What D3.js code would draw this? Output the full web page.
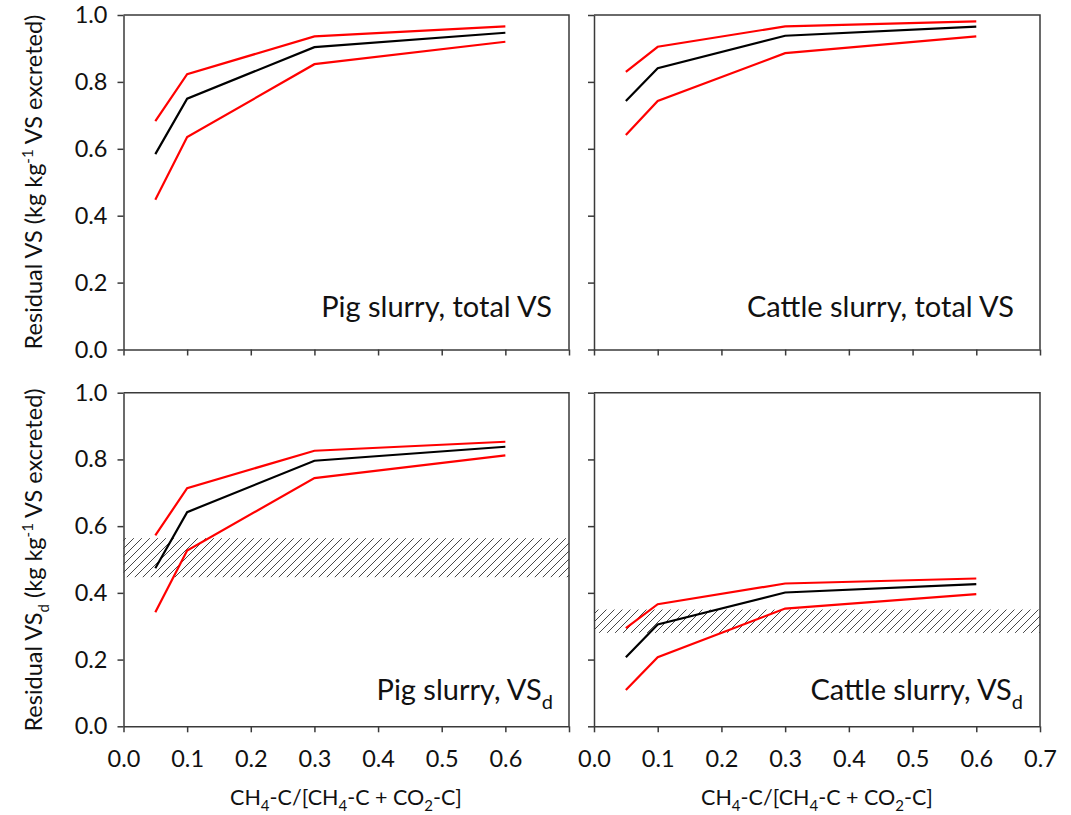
<!DOCTYPE html>
<html>
<head>
<meta charset="utf-8">
<script src="https://cdn.jsdelivr.net/npm/d3@7"></script>
<style>
  body { margin: 0; background: #fff; }
  text { font-family: Lato, "Open Sans", sans-serif; fill: #111; }
</style>
</head>
<body>
<div id="chart"></div>
<script>
const width = 1071;
const height = 815;

// x positions of the scenarios (CH4-C fraction)
const xVals = [0.05, 0.1, 0.3, 0.6];

// Pig slurry, total VS
const pigTotalMid = [0.584, 0.750, 0.904, 0.947];
const pigTotalHigh = [0.683, 0.823, 0.936, 0.966];
const pigTotalLow = [0.448, 0.635, 0.853, 0.920];

// Cattle slurry, total VS
const cattleTotalMid = [0.743, 0.841, 0.938, 0.965];
const cattleTotalHigh = [0.830, 0.905, 0.966, 0.981];
const cattleTotalLow = [0.641, 0.743, 0.886, 0.936];

// Pig slurry, VSd
const pigVsdMid = [0.474, 0.642, 0.796, 0.838];
const pigVsdHigh = [0.572, 0.714, 0.826, 0.853];
const pigVsdLow = [0.342, 0.527, 0.744, 0.812];

// Cattle slurry, VSd
const cattleVsdMid = [0.207, 0.305, 0.401, 0.426];
const cattleVsdHigh = [0.294, 0.366, 0.428, 0.443];
const cattleVsdLow = [0.109, 0.207, 0.353, 0.396];

// hatched bands (range of measured residual VSd)
const pigVsdBand = [0.447, 0.564];
const cattleVsdBand = [0.280, 0.350];

const xTicks = [0, 0.1, 0.2, 0.3, 0.4, 0.5, 0.6, 0.7];
const yTicks = [0, 0.2, 0.4, 0.6, 0.8, 1.0];

const svg = d3.select("#chart")
    .append("svg")
    .attr("width", width)
    .attr("height", height);

// hatch pattern for the bands
svg.append("defs").append("pattern")
    .attr("id", "hatch")
    .attr("patternUnits", "userSpaceOnUse")
    .attr("width", 8)
    .attr("height", 8)
    .append("path")
    .attr("d", "M0,8 L8,0 M-1,1 L1,-1 M7,9 L9,7")
    .attr("stroke", "#333")
    .attr("stroke-width", 0.9);

const leftX = [123.5, 569];
const rightX = [594, 1040];
const topY = [349.5, 15];
const botY = [726.3, 392.7];

const panels = [
    { x: leftX, y: topY, label: ["Pig slurry, total VS"], lx: 552, ly: 317,
      mid: pigTotalMid, high: pigTotalHigh, low: pigTotalLow, yLabels: true, xLabels: null },
    { x: rightX, y: topY, label: ["Cattle slurry, total VS"], lx: 1014, ly: 317,
      mid: cattleTotalMid, high: cattleTotalHigh, low: cattleTotalLow, yLabels: false, xLabels: null },
    { x: leftX, y: botY, label: ["Pig slurry, VS", "d"], lx: 553, ly: 700,
      mid: pigVsdMid, high: pigVsdHigh, low: pigVsdLow, band: pigVsdBand, yLabels: true,
      xLabels: xTicks.slice(0, 7) },
    { x: rightX, y: botY, label: ["Cattle slurry, VS", "d"], lx: 1023, ly: 700,
      mid: cattleVsdMid, high: cattleVsdHigh, low: cattleVsdLow, band: cattleVsdBand, yLabels: false,
      xLabels: xTicks }
];

panels.forEach(p => {
    const x = d3.scaleLinear().domain([0, 0.7]).range(p.x);
    const y = d3.scaleLinear().domain([0, 1]).range(p.y);
    const g = svg.append("g");

    // hatched band
    if (p.band) {
        g.append("rect")
            .attr("x", x(0))
            .attr("width", x(0.7) - x(0))
            .attr("y", y(p.band[1]))
            .attr("height", y(p.band[0]) - y(p.band[1]))
            .attr("fill", "url(#hatch)");
    }

    // frame (top + right)
    g.append("path")
        .attr("d", `M${x(0)},${y(1)} H${x(0.7)} V${y(0)}`)
        .attr("fill", "none")
        .attr("stroke", "#3a3a3a")
        .attr("stroke-width", 1.5);

    // axes
    const yAxis = g.append("g")
        .attr("transform", `translate(${x(0)},0)`)
        .call(d3.axisLeft(y).tickValues(yTicks).tickSize(6).tickSizeOuter(0)
            .tickFormat(p.yLabels ? d3.format(".1f") : ""));
    const xAxis = g.append("g")
        .attr("transform", `translate(0,${y(0)})`)
        .call(d3.axisBottom(x).tickValues(xTicks).tickSize(6).tickSizeOuter(0)
            .tickFormat(d => p.xLabels && p.xLabels.includes(d) ? d3.format(".1f")(d) : ""));

    [yAxis, xAxis].forEach(a => {
        a.select(".domain").attr("stroke", "#3a3a3a").attr("stroke-width", 1.5);
        a.selectAll(".tick line").attr("stroke", "#3a3a3a").attr("stroke-width", 1.5);
        a.selectAll(".tick text").style("font-size", "23.5px").attr("fill", "#111");
    });
    yAxis.selectAll(".tick text").attr("x", -16);
    xAxis.selectAll(".tick text").attr("y", 24);

    // lines
    const line = d3.line()
        .x((d, i) => x(xVals[i]))
        .y(d => y(d));
    [[p.high, "#ff0000"], [p.low, "#ff0000"], [p.mid, "#000"]].forEach(([vals, col]) => {
        g.append("path")
            .datum(vals)
            .attr("d", line)
            .attr("fill", "none")
            .attr("stroke", col)
            .attr("stroke-width", 2.2);
    });

    // panel label
    const t = g.append("text")
        .attr("x", p.lx)
        .attr("y", p.ly)
        .attr("text-anchor", "end")
        .style("font-size", "29px");
    t.append("tspan").text(p.label[0]);
    if (p.label[1]) {
        t.append("tspan").attr("dy", 9).style("font-size", "20px").text(p.label[1]);
    }
});

// y axis titles
const yt1 = svg.append("text")
    .attr("transform", "translate(42,182) rotate(-90)")
    .attr("text-anchor", "middle")
    .style("font-size", "23.5px");
yt1.append("tspan").text("Residual VS (kg kg");
yt1.append("tspan").attr("dy", -9).style("font-size", "15px").text("-1");
yt1.append("tspan").attr("dy", 9).text(" VS excreted)");

const yt2 = svg.append("text")
    .attr("transform", "translate(42,560) rotate(-90)")
    .attr("text-anchor", "middle")
    .style("font-size", "23.5px");
yt2.append("tspan").text("Residual VS");
yt2.append("tspan").attr("dy", 7).style("font-size", "15px").text("d");
yt2.append("tspan").attr("dy", -7).text(" (kg kg");
yt2.append("tspan").attr("dy", -9).style("font-size", "15px").text("-1");
yt2.append("tspan").attr("dy", 9).text(" VS excreted)");

// x axis titles
[346, 817].forEach(cx => {
    const t = svg.append("text")
        .attr("x", cx)
        .attr("y", 805)
        .attr("text-anchor", "middle")
        .style("font-size", "21.5px");
    t.append("tspan").text("CH");
    t.append("tspan").attr("dy", 6).style("font-size", "15px").text("4");
    t.append("tspan").attr("dy", -6).text("-C/[CH");
    t.append("tspan").attr("dy", 6).style("font-size", "15px").text("4");
    t.append("tspan").attr("dy", -6).text("-C + CO");
    t.append("tspan").attr("dy", 6).style("font-size", "15px").text("2");
    t.append("tspan").attr("dy", -6).text("-C]");
});
</script>
</body>
</html>
